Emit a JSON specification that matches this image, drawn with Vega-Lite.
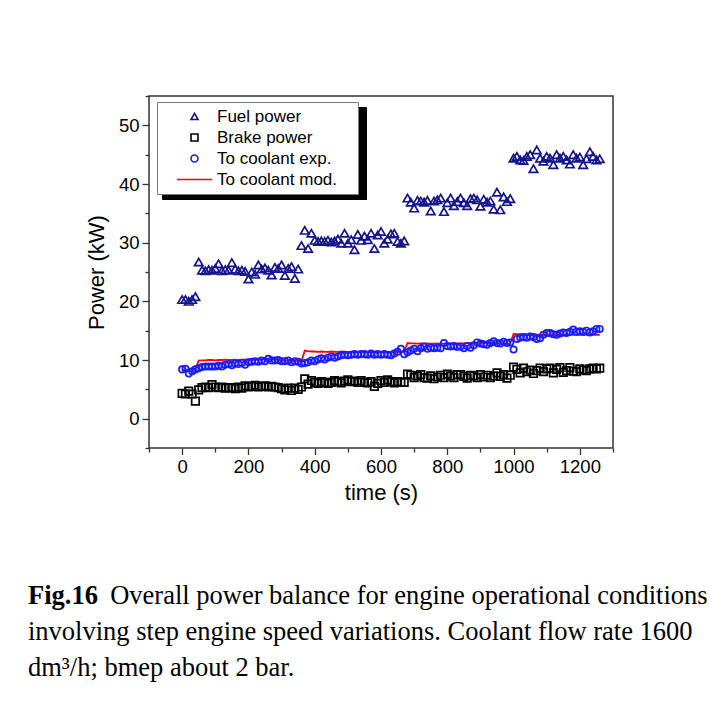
{
  "$schema": "https://vega.github.io/schema/vega-lite/v6.json",
  "width": 464,
  "height": 352,
  "autosize": {"type": "none"},
  "padding": {"left": 149, "top": 96, "right": 96, "bottom": 265},
  "background": "white",
  "title": {
    "text": "Fig.16",
    "subtitle": ["\u200b\u2003\u2003\u2002\u2009\u2009\u2009Overall power balance for engine operational conditions", "involving step engine speed variations. Coolant flow rate 1600", "dm\u00b3/h; bmep about 2 bar."],
    "orient": "bottom",
    "anchor": "start",
    "frame": "group",
    "dx": -121,
    "offset": 80,
    "font": "Liberation Serif",
    "fontSize": 26.5,
    "fontWeight": "bold",
    "color": "#000000",
    "subtitleFont": "Liberation Serif",
    "subtitleFontSize": 26.5,
    "subtitleFontWeight": "normal",
    "subtitleColor": "#000000",
    "subtitleLineHeight": 36,
    "subtitlePadding": -26.5
  },
  "data": {"values": [
    {"t":0,"F":20.3,"B":4.3,"C":8.4,"M":8.35},
    {"t":10,"F":20.3,"B":4.2,"C":8.5,"M":8.35},
    {"t":20,"F":20.0,"B":4.7,"C":7.7,"M":8.35},
    {"t":30,"F":20.3,"B":4.2,"C":8.1,"M":8.35},
    {"t":40,"F":20.8,"B":3.0,"C":8.4,"M":8.4},
    {"t":50,"F":26.7,"B":4.9,"C":8.6,"M":9.9},
    {"t":60,"F":25.3,"B":5.3,"C":8.8,"M":9.95},
    {"t":70,"F":25.2,"B":5.4,"C":8.9,"M":9.95},
    {"t":80,"F":25.4,"B":5.3,"C":8.9,"M":10.0},
    {"t":90,"F":25.3,"B":5.8,"C":8.9,"M":10.0},
    {"t":100,"F":25.6,"B":5.4,"C":8.9,"M":9.95},
    {"t":110,"F":26.4,"B":5.3,"C":9.0,"M":10.0},
    {"t":120,"F":25.2,"B":5.4,"C":8.9,"M":10.0},
    {"t":130,"F":25.4,"B":5.2,"C":9.2,"M":10.05},
    {"t":140,"F":25.3,"B":5.3,"C":9.3,"M":10.0},
    {"t":150,"F":26.6,"B":5.3,"C":9.1,"M":10.0},
    {"t":160,"F":25.5,"B":5.1,"C":9.4,"M":10.05},
    {"t":170,"F":25.2,"B":5.4,"C":9.3,"M":10.0},
    {"t":180,"F":25.3,"B":5.2,"C":9.5,"M":10.05},
    {"t":190,"F":25.1,"B":5.6,"C":9.2,"M":10.05},
    {"t":200,"F":23.8,"B":5.4,"C":9.6,"M":10.0},
    {"t":210,"F":25.0,"B":5.5,"C":9.7,"M":10.05},
    {"t":220,"F":24.6,"B":5.7,"C":9.8,"M":10.1},
    {"t":230,"F":26.2,"B":5.4,"C":9.7,"M":10.05},
    {"t":240,"F":25.5,"B":5.5,"C":9.9,"M":10.1},
    {"t":250,"F":25.7,"B":5.6,"C":9.8,"M":10.1},
    {"t":260,"F":25.3,"B":5.4,"C":10.2,"M":10.05},
    {"t":270,"F":24.5,"B":5.5,"C":9.9,"M":10.1},
    {"t":280,"F":25.8,"B":5.4,"C":9.9,"M":10.05},
    {"t":290,"F":25.6,"B":5.3,"C":10.0,"M":10.0},
    {"t":300,"F":26.2,"B":5.1,"C":9.8,"M":9.95},
    {"t":310,"F":24.4,"B":4.9,"C":9.8,"M":9.9},
    {"t":320,"F":25.6,"B":5.2,"C":9.9,"M":9.9},
    {"t":330,"F":25.9,"B":4.8,"C":9.6,"M":9.85},
    {"t":340,"F":23.9,"B":5.2,"C":9.8,"M":9.85},
    {"t":350,"F":25.5,"B":5.0,"C":9.7,"M":9.8},
    {"t":360,"F":29.5,"B":5.4,"C":9.4,"M":9.8},
    {"t":370,"F":32.1,"B":6.8,"C":9.5,"M":11.6},
    {"t":380,"F":29.0,"B":5.9,"C":9.6,"M":11.5},
    {"t":390,"F":31.6,"B":6.5,"C":9.9,"M":11.45},
    {"t":400,"F":30.4,"B":6.2,"C":9.8,"M":11.45},
    {"t":410,"F":30.2,"B":6.0,"C":10.1,"M":11.4},
    {"t":420,"F":30.3,"B":6.3,"C":10.3,"M":11.45},
    {"t":430,"F":30.2,"B":6.2,"C":10.1,"M":11.4},
    {"t":440,"F":30.4,"B":6.0,"C":10.4,"M":11.4},
    {"t":450,"F":30.1,"B":6.2,"C":10.6,"M":11.45},
    {"t":460,"F":30.3,"B":6.5,"C":10.4,"M":11.4},
    {"t":470,"F":30.6,"B":6.3,"C":10.6,"M":11.4},
    {"t":480,"F":29.9,"B":6.1,"C":10.8,"M":11.45},
    {"t":490,"F":31.6,"B":6.4,"C":10.9,"M":11.4},
    {"t":500,"F":29.9,"B":6.6,"C":10.8,"M":11.4},
    {"t":510,"F":30.5,"B":6.3,"C":10.9,"M":11.4},
    {"t":520,"F":28.8,"B":6.4,"C":11.0,"M":11.45},
    {"t":530,"F":31.4,"B":6.2,"C":10.9,"M":11.4},
    {"t":540,"F":30.4,"B":6.5,"C":11.0,"M":11.4},
    {"t":550,"F":31.1,"B":6.2,"C":11.0,"M":11.35},
    {"t":560,"F":30.5,"B":6.1,"C":10.9,"M":11.4},
    {"t":570,"F":31.6,"B":6.3,"C":11.1,"M":11.4},
    {"t":580,"F":29.0,"B":5.5,"C":10.9,"M":11.4},
    {"t":590,"F":31.3,"B":6.0,"C":11.0,"M":11.35},
    {"t":600,"F":31.9,"B":6.5,"C":10.9,"M":11.4},
    {"t":610,"F":29.9,"B":6.2,"C":11.0,"M":11.4},
    {"t":620,"F":30.6,"B":6.6,"C":10.9,"M":11.35},
    {"t":630,"F":31.5,"B":6.3,"C":10.8,"M":11.4},
    {"t":640,"F":31.6,"B":6.1,"C":11.1,"M":11.4},
    {"t":650,"F":30.2,"B":6.3,"C":11.4,"M":11.35},
    {"t":660,"F":29.9,"B":6.2,"C":11.9,"M":11.4},
    {"t":670,"F":30.3,"B":6.2,"C":11.0,"M":11.4},
    {"t":680,"F":37.6,"B":7.6,"C":11.3,"M":12.9},
    {"t":690,"F":36.9,"B":7.4,"C":11.6,"M":12.85},
    {"t":700,"F":35.9,"B":7.0,"C":11.9,"M":12.85},
    {"t":710,"F":37.2,"B":7.3,"C":11.5,"M":12.8},
    {"t":720,"F":37.1,"B":7.5,"C":12.0,"M":12.85},
    {"t":730,"F":36.9,"B":7.0,"C":12.3,"M":12.8},
    {"t":740,"F":37.2,"B":6.9,"C":11.9,"M":12.85},
    {"t":750,"F":35.4,"B":7.3,"C":12.1,"M":12.8},
    {"t":760,"F":37.1,"B":6.8,"C":12.0,"M":12.8},
    {"t":770,"F":37.3,"B":7.1,"C":12.1,"M":12.85},
    {"t":780,"F":37.6,"B":7.4,"C":12.0,"M":12.8},
    {"t":790,"F":35.3,"B":7.0,"C":12.9,"M":12.8},
    {"t":800,"F":36.8,"B":7.6,"C":12.4,"M":12.85},
    {"t":810,"F":37.6,"B":7.3,"C":12.3,"M":12.8},
    {"t":820,"F":36.3,"B":7.0,"C":12.4,"M":12.85},
    {"t":830,"F":37.0,"B":7.5,"C":12.2,"M":12.85},
    {"t":840,"F":37.6,"B":7.5,"C":12.3,"M":12.8},
    {"t":850,"F":36.8,"B":7.2,"C":12.0,"M":12.85},
    {"t":860,"F":36.3,"B":6.9,"C":12.4,"M":12.85},
    {"t":870,"F":37.5,"B":7.4,"C":12.1,"M":12.9},
    {"t":880,"F":37.6,"B":7.3,"C":12.5,"M":12.9},
    {"t":890,"F":37.3,"B":7.0,"C":13.0,"M":12.9},
    {"t":900,"F":36.2,"B":7.5,"C":12.8,"M":12.95},
    {"t":910,"F":37.4,"B":7.1,"C":12.7,"M":12.9},
    {"t":920,"F":36.9,"B":7.4,"C":12.6,"M":12.9},
    {"t":930,"F":37.1,"B":7.0,"C":12.9,"M":12.85},
    {"t":940,"F":35.7,"B":7.3,"C":13.2,"M":12.9},
    {"t":950,"F":38.6,"B":7.8,"C":12.9,"M":12.85},
    {"t":960,"F":35.6,"B":7.2,"C":12.8,"M":12.85},
    {"t":970,"F":37.8,"B":7.5,"C":13.1,"M":12.85},
    {"t":980,"F":37.0,"B":6.9,"C":12.9,"M":12.8},
    {"t":990,"F":37.5,"B":7.4,"C":13.0,"M":12.8},
    {"t":1000,"F":44.4,"B":8.8,"C":11.8,"M":14.45},
    {"t":1010,"F":44.7,"B":8.4,"C":13.6,"M":14.4},
    {"t":1020,"F":44.1,"B":7.8,"C":13.8,"M":14.4},
    {"t":1030,"F":44.0,"B":8.6,"C":13.9,"M":14.35},
    {"t":1040,"F":44.7,"B":8.0,"C":13.8,"M":14.35},
    {"t":1050,"F":45.0,"B":8.3,"C":14.0,"M":14.3},
    {"t":1060,"F":42.6,"B":7.7,"C":13.9,"M":14.3},
    {"t":1070,"F":45.8,"B":8.2,"C":13.6,"M":14.3},
    {"t":1080,"F":44.4,"B":8.6,"C":13.7,"M":14.3},
    {"t":1090,"F":43.9,"B":8.0,"C":14.3,"M":14.35},
    {"t":1100,"F":44.7,"B":8.5,"C":14.6,"M":14.35},
    {"t":1110,"F":44.4,"B":8.6,"C":14.6,"M":14.3},
    {"t":1120,"F":43.3,"B":7.8,"C":14.4,"M":14.3},
    {"t":1130,"F":45.0,"B":8.4,"C":14.3,"M":14.3},
    {"t":1140,"F":44.4,"B":8.7,"C":14.5,"M":14.3},
    {"t":1150,"F":44.7,"B":7.9,"C":14.7,"M":14.3},
    {"t":1160,"F":44.1,"B":8.2,"C":14.6,"M":14.25},
    {"t":1170,"F":43.4,"B":8.7,"C":14.8,"M":14.3},
    {"t":1180,"F":45.0,"B":8.1,"C":15.2,"M":14.3},
    {"t":1190,"F":44.4,"B":8.0,"C":14.8,"M":14.3},
    {"t":1200,"F":44.6,"B":8.5,"C":14.9,"M":14.3},
    {"t":1210,"F":43.3,"B":8.3,"C":14.8,"M":14.3},
    {"t":1220,"F":44.3,"B":8.2,"C":15.0,"M":14.3},
    {"t":1230,"F":45.5,"B":8.5,"C":14.7,"M":14.3},
    {"t":1240,"F":44.7,"B":8.6,"C":14.9,"M":14.3},
    {"t":1250,"F":44.1,"B":8.5,"C":15.3,"M":14.3},
    {"t":1260,"F":44.3,"B":8.6,"C":15.3,"M":14.3}
  ]},
  "encoding": {
    "x": {
      "field": "t",
      "type": "quantitative",
      "scale": {"domain": [-100, 1300], "nice": false, "zero": false},
      "axis": {
        "title": "time (s)",
        "format": "d",
        "values": [-100, 0, 100, 200, 300, 400, 500, 600, 700, 800, 900, 1000, 1100, 1200, 1300],
        "labelExpr": "datum.value % 200 === 0 ? datum.label : ''",
        "tickSize": {"condition": {"test": "datum.value % 200 === 0", "value": 6.5}, "value": 4},
        "titlePadding": 6
      }
    },
    "y": {
      "field": "v",
      "type": "quantitative",
      "scale": {"domain": [-5, 55], "nice": false, "zero": false},
      "axis": {
        "title": "Power (kW)",
        "format": "d",
        "values": [-5, 0, 5, 10, 15, 20, 25, 30, 35, 40, 45, 50, 55],
        "labelExpr": "datum.value % 10 === 0 ? datum.label : ''",
        "tickSize": {"condition": {"test": "datum.value % 10 === 0", "value": 7}, "value": 4},
        "titlePadding": 10
      }
    }
  },
  "layer": [
    {
      "transform": [{"fold": ["M"], "as": ["m", "v"]}],
      "mark": {"type": "line", "color": "#ff0000"},
      "encoding": {
        "strokeWidth": {
          "field": "m", "type": "ordinal",
          "scale": {"domain": ["B", "C", "F", "M"], "range": [1.8, 1.8, 1.8, 1.8]},
          "legend": {
            "title": null, "orient": "none", "legendX": 13, "legendY": 11, "zindex": 1,
            "fillColor": "#000000", "strokeColor": "#000000", "labelColor": "#000000",
            "symbolStrokeColor": "#000000", "symbolFillColor": "#000000", "symbolType": "square",
            "labelOffset": 152,
            "labelExpr": "''"
          }
        }
      }
    },
    {
      "transform": [{"fold": ["F", "B", "C"], "as": ["k", "v"]}],
      "mark": {"type": "point", "filled": false, "strokeWidth": 1.7, "opacity": 1},
      "encoding": {
        "color": {
          "field": "k", "type": "nominal",
          "scale": {"domain": ["F", "B", "C", "M"], "range": ["#14148c", "#000000", "#1a1aff", "#ff0000"]},
          "legend": {
            "title": null, "orient": "none", "legendX": 8, "legendY": 6, "zindex": 3,
            "labelExpr": "datum.label == 'F' ? 'Fuel power' : datum.label == 'B' ? 'Brake power' : datum.label == 'C' ? 'To coolant exp.' : 'To coolant mod.\u00a0\u00a0\u00a0\u200b'"
          }
        },
        "shape": {
          "field": "k", "type": "nominal",
          "scale": {"domain": ["F", "B", "C", "M"], "range": ["triangle-up", "square", "circle", "M-5,0H5"]},
          "legend": {
            "title": null, "orient": "none", "legendX": 8, "legendY": 6, "zindex": 3,
            "labelExpr": "datum.label == 'F' ? 'Fuel power' : datum.label == 'B' ? 'Brake power' : datum.label == 'C' ? 'To coolant exp.' : 'To coolant mod.\u00a0\u00a0\u00a0\u200b'"
          }
        },
        "size": {
          "field": "k", "type": "ordinal",
          "scale": {"domain": ["F", "B", "C"], "range": [72, 40, 56]},
          "legend": null
        }
      }
    }
  ],
  "config": {
    "font": "Liberation Sans",
    "view": {"stroke": "#333333", "strokeWidth": 1.5},
    "axis": {
      "domain": false, "grid": false,
      "tickColor": "#333333", "tickWidth": 1.3,
      "labelFont": "Liberation Sans", "labelFontSize": 18.5, "labelColor": "#000000", "labelPadding": 3,
      "labelOverlap": false, "labelFlush": false,
      "titleFont": "Liberation Sans", "titleFontSize": 22, "titleFontWeight": "normal", "titleColor": "#000000"
    },
    "legend": {
      "padding": 6,
      "fillColor": "#ffffff", "strokeColor": "#7a7a7a", "strokeWidth": 1,
      "symbolSize": 49, "symbolStrokeWidth": 1.6, "symbolOffset": 23, "labelOffset": 14,
      "labelFont": "Liberation Sans", "labelFontSize": 17, "labelColor": "#000000",
      "rowPadding": 3, "labelLimit": 400
    }
  }
}
